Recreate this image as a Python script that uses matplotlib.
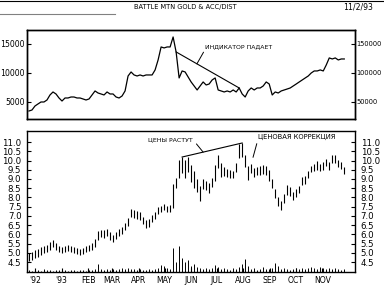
import numpy as np
import pandas as pd
import matplotlib
matplotlib.use('Agg')
import matplotlib.pyplot as plt
from matplotlib.lines import Line2D

plt.rcParams['font.family'] = ['DejaVu Sans']

# twice-weekly samples, end of Nov 1992 .. Nov 1993
start = '1992-11-24'

acc_dist = [3450, 3620, 4310, 4660, 5000, 5000, 5345, 6210, 6725, 6380,
            5690, 5170, 5690, 5690, 5860, 5860, 5690, 5690, 5520, 5345,
            5520, 6210, 6900, 6550, 6380, 6210, 6725, 6380, 6380, 5860,
            5690, 6035, 6900, 9480, 10170, 9655, 9480, 9655, 9480, 9655,
            9655, 9655, 10520, 12240, 14480, 14310, 14480, 14480, 16200, 13620,
            9140, 10345, 10170, 9310, 8450, 7760, 7070, 7760, 8450, 7930,
            8100, 8795, 9140, 7070, 6900, 6725, 6900, 6725, 7070, 6725,
            7415, 6380, 5860, 6900, 7415, 7070, 7415, 7415, 7760, 8450,
            8100, 6210, 6725, 6550, 6900, 7070, 7240, 7415, 7760, 8100,
            8450, 8795, 9140, 9480, 10000, 10345, 10345, 10520, 10345, 11380,
            12590, 12410, 12590, 12240, 12410, 12410]

high = [4.99, 5.04, 5.15, 5.20, 5.31, 5.37, 5.42, 5.58, 5.69, 5.53,
        5.37, 5.31, 5.37, 5.42, 5.37, 5.31, 5.26, 5.20, 5.26, 5.37,
        5.42, 5.53, 5.75, 6.18, 6.23, 6.23, 6.29, 6.12, 5.96, 6.12,
        6.29, 6.40, 6.61, 6.88, 7.37, 7.32, 7.26, 7.21, 6.94, 6.77,
        6.83, 7.05, 7.21, 7.48, 7.53, 7.64, 7.53, 7.59, 8.72, 9.05,
        10.02, 10.19, 10.02, 10.19, 9.75, 9.43, 9.00, 8.62, 9.00, 8.89,
        8.78, 9.05, 9.75, 10.30, 9.86, 9.65, 9.54, 9.48, 9.43, 9.86,
        10.89, 10.95, 10.30, 9.70, 9.81, 9.59, 9.65, 9.70, 9.75, 9.70,
        9.48, 9.00, 8.45, 8.02, 7.80, 8.18, 8.67, 8.56, 8.29, 8.45,
        8.62, 9.10, 9.16, 9.43, 9.70, 9.81, 9.97, 9.81, 9.92, 10.08,
        9.92, 10.30, 10.30, 10.02, 9.92, 9.65]

low = [4.55, 4.61, 4.72, 4.77, 4.88, 4.99, 5.04, 5.15, 5.31, 5.15,
       5.04, 4.99, 5.04, 5.10, 5.04, 4.99, 4.93, 4.88, 4.93, 5.04,
       5.10, 5.15, 5.31, 5.69, 5.85, 5.80, 5.91, 5.69, 5.58, 5.75,
       5.91, 6.02, 6.23, 6.45, 6.94, 6.88, 6.83, 6.77, 6.56, 6.34,
       6.40, 6.67, 6.83, 7.10, 7.21, 7.32, 7.21, 7.21, 7.42, 8.51,
       9.05, 9.32, 9.05, 9.37, 8.83, 8.51, 8.29, 7.80, 8.45, 8.40,
       8.24, 8.56, 8.89, 9.59, 9.10, 9.16, 9.10, 9.05, 9.05, 9.37,
       10.13, 10.19, 9.65, 8.94, 9.32, 9.10, 9.21, 9.21, 9.27, 9.21,
       8.89, 8.51, 7.97, 7.53, 7.32, 7.70, 8.13, 8.07, 7.86, 8.02,
       8.24, 8.67, 8.72, 9.05, 9.37, 9.43, 9.48, 9.43, 9.48, 9.70,
       9.48, 9.86, 9.86, 9.65, 9.54, 9.27]

volume = [10, 5, 10, 10, 5, 15, 10, 10, 5, 10,
          10, 5, 10, 5, 10, 10, 5, 10, 10, 5,
          10, 10, 15, 40, 15, 10, 15, 10, 15, 10,
          15, 20, 15, 20, 15, 15, 10, 15, 10, 10,
          15, 10, 15, 20, 35, 30, 20, 15, 120, 50,
          130, 70, 50, 60, 30, 40, 25, 20, 15, 20,
          15, 20, 35, 25, 15, 20, 15, 10, 20, 15,
          25, 40, 65, 30, 15, 20, 10, 15, 25, 15,
          15, 20, 45, 30, 15, 20, 15, 10, 15, 20,
          15, 20, 15, 20, 25, 20, 15, 25, 20, 15,
          20, 15, 20, 15, 10, 15]

month_starts = ['1992-12-01', '1993-01-01', '1993-02-01', '1993-03-01',
                '1993-04-01', '1993-05-01', '1993-06-01', '1993-07-01',
                '1993-08-01', '1993-09-01', '1993-10-01', '1993-11-01']
month_labels = ["'92", "'93", 'FEB', 'MAR', 'APR', 'MAY', 'JUN', 'JUL',
                'AUG', 'SEP', 'OCT', 'NOV']

ad_ticks = [5000, 10000, 15000]
ad_left_labels = ['5000', '10000', '15000']
ad_right_labels = ['50000', '100000', '150000']
price_ticks = np.arange(4.5, 11.01, 0.5)

dates = pd.date_range(start, periods=len(high), freq='84h')
xmin = dates[0] - pd.Timedelta(days=2.3)
xmax = dates[0] + pd.Timedelta(days=380)


def along(i0, i1, vals, t):
    # point at fraction t along the segment joining two samples
    return (dates[i0] + (dates[i1] - dates[i0]) * t,
            vals[i0] + (vals[i1] - vals[i0]) * t)


fig = plt.figure(figsize=(3.84, 2.86), dpi=100)
ax1 = fig.add_axes([27 / 384, 1 - 119 / 286, 328 / 384, 89 / 286])
ax2 = fig.add_axes([27 / 384, 1 - 272 / 286, 328 / 384, 141 / 286])

# ---- top panel: accumulation / distribution
ax1.plot(dates, acc_dist, color='black', lw=0.9)
ax1.plot([dates[49], dates[70]], [acc_dist[49], acc_dist[70]], color='black', lw=0.8)
ax1.set_xlim(xmin, xmax)
ax1.set_ylim(2070, 17400)
ax1.set_xticks([])
ax1.set_yticks(ad_ticks, ad_left_labels)
ax1.tick_params(axis='y', direction='in', length=3, width=0.8, pad=1.5, labelsize=5.6)
r1 = ax1.twinx()
r1.set_ylim(ax1.get_ylim())
r1.set_yticks(ad_ticks, ad_right_labels)
r1.tick_params(axis='y', direction='in', length=3, width=0.8, pad=1.2, labelsize=4.8)
ax1.annotate('ИНДИКАТОР ПАДАЕТ', xy=along(49, 70, acc_dist, 0.33),
             xytext=(0.543, 0.81), textcoords='axes fraction',
             ha='left', va='center', fontsize=4.4,
             arrowprops=dict(arrowstyle='-', lw=0.7, relpos=(0, 0),
                             shrinkA=0, shrinkB=0))

# ---- bottom panel: price bars + volume
vax = ax2.twinx()
vax.vlines(dates, 0, volume, color='black', lw=0.7)
vax.set_ylim(0, 705)
vax.axis('off')

ax2.vlines(dates, low, high, color='black', lw=0.8)
ax2.plot([dates[51], dates[71]], [high[51], high[71]], color='black', lw=0.8)
ax2.set_xlim(xmin, xmax)
ax2.set_ylim(3.96, 11.6)
ax2.set_yticks(price_ticks, ['%.1f' % v for v in price_ticks])
ax2.tick_params(axis='y', direction='in', length=3, width=0.8, pad=4,
                labelsize=6.2, right=True, labelright=True)
ax2.set_xticks(pd.to_datetime(month_starts), month_labels)
ax2.tick_params(axis='x', direction='in', length=3, width=0.8, pad=3, labelsize=5.6)
ax2.set_zorder(vax.get_zorder() + 1)
ax2.patch.set_visible(False)

ax2.annotate('ЦЕНЫ РАСТУТ', xy=along(51, 71, high, 0.35),
             xytext=(0.369, 0.94), textcoords='axes fraction',
             ha='left', va='center', fontsize=4.5,
             arrowprops=dict(arrowstyle='-', lw=0.7, relpos=(1, 0.5),
                             shrinkA=1, shrinkB=0))
ax2.annotate('ЦЕНОВАЯ КОРРЕКЦИЯ', xy=(dates[74], high[74]),
             xytext=(0.704, 0.961), textcoords='axes fraction',
             ha='left', va='center', fontsize=4.9,
             arrowprops=dict(arrowstyle='-', lw=0.7, relpos=(0, 0),
                             shrinkA=1, shrinkB=5))

for a in (ax1, r1, ax2):
    for s in a.spines.values():
        s.set_linewidth(1.0)

# header strip
fig.text(0.482, 0.974, 'BATTLE MTN GOLD & ACC/DIST', ha='center', va='center', fontsize=4.8)
fig.text(0.932, 0.974, '11/2/93', ha='center', va='center', fontsize=5.6)
fig.add_artist(Line2D([0, 1], [0.996, 0.996], color='black', lw=0.8))
fig.add_artist(Line2D([0, 0.3], [0.952, 0.952], color='0.5', lw=0.8))

fig.savefig('out.png', dpi=100)
